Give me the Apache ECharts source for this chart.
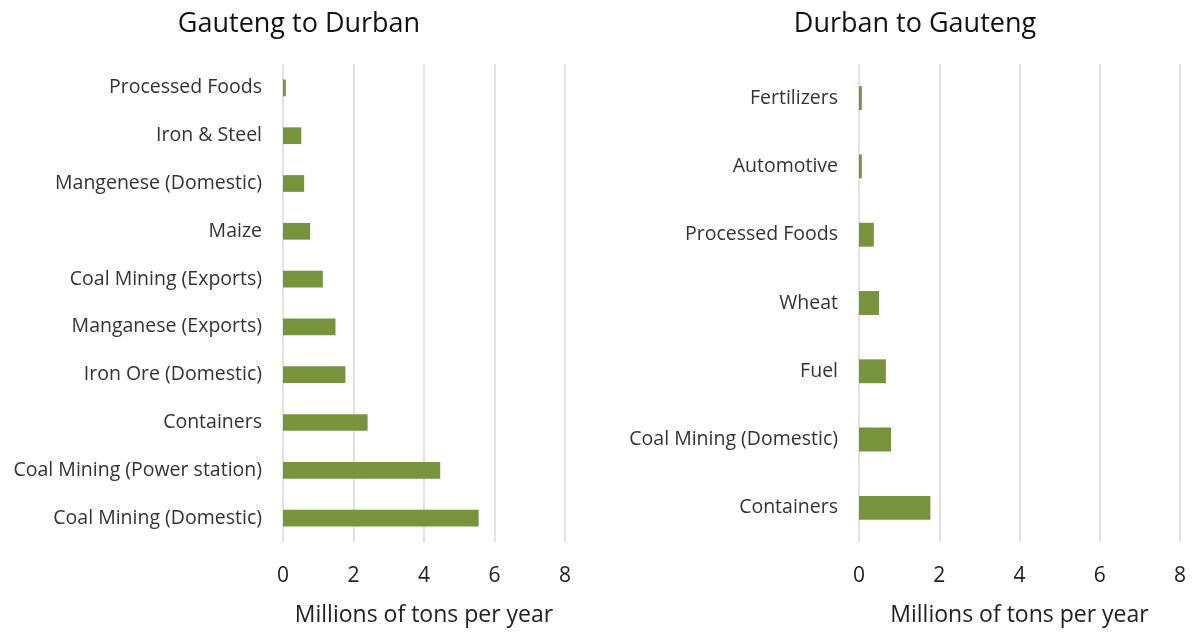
<!DOCTYPE html>
<html>
<head>
<meta charset="utf-8">
<script src="https://cdn.jsdelivr.net/npm/echarts@6/dist/echarts.min.js"></script>
<style>
  html, body { margin: 0; padding: 0; background: #fff; }
  #chart { width: 1195px; height: 632px; }
</style>
</head>
<body>
<div id="chart"></div>
<script>
  // Gauteng -> Durban (top to bottom as in the picture)
  const toDurbanCats = ['Processed Foods', 'Iron & Steel', 'Mangenese (Domestic)', 'Maize', 'Coal Mining (Exports)',
    'Manganese (Exports)', 'Iron Ore (Domestic)', 'Containers', 'Coal Mining (Power station)', 'Coal Mining (Domestic)']
  const toDurbanVals = [0.08, 0.52, 0.6, 0.77, 1.13, 1.49, 1.77, 2.4, 4.46, 5.55]

  // Durban -> Gauteng
  const toGautengCats = ['Fertilizers', 'Automotive', 'Processed Foods', 'Wheat', 'Fuel', 'Coal Mining (Domestic)', 'Containers']
  const toGautengVals = [0.07, 0.07, 0.37, 0.5, 0.67, 0.8, 1.78]

  const titles = ['Gauteng to Durban', 'Durban to Gauteng']
  const axisName = 'Millions of tons per year'

  const font = '"Open Sans", Lato, sans-serif'
  const barColor = '#77933c'

  // 一个柱状图的坐标轴配置
  function valueAxis (idx) {
    return {
      type: 'value',
      gridIndex: idx,
      min: 0,
      max: 8,
      interval: 2,
      name: axisName,
      nameLocation: 'middle',
      nameGap: 62,
      nameTextStyle: { color: '#222', fontSize: 23, fontFamily: font },
      axisLine: { show: false },
      axisTick: { show: false },
      axisLabel: { color: '#222', fontSize: 21, margin: 24, fontFamily: font },
      splitLine: { lineStyle: { color: '#d9d9d9', width: 1.5 } }
    }
  }

  function categoryAxis (idx, cats) {
    return {
      type: 'category',
      gridIndex: idx,
      data: cats,
      inverse: true,
      axisLine: { show: false },
      axisTick: { show: false },
      axisLabel: { color: '#333', fontSize: 19.5, margin: 21, fontFamily: font }
    }
  }

  let myChart = echarts.init(document.getElementById('chart'))
  myChart.setOption({
    animation: false,
    title: [
      { text: titles[0], left: 294, top: 6, textAlign: 'center', textStyle: { color: '#111', fontSize: 27, fontWeight: 'normal', fontFamily: font } },
      { text: titles[1], left: 910, top: 6, textAlign: 'center', textStyle: { color: '#111', fontSize: 27, fontWeight: 'normal', fontFamily: font } }
    ],
    grid: [
      { left: 283, right: 630, top: 64, bottom: 86 },
      { left: 859, right: 15, top: 64, bottom: 86 }
    ],
    xAxis: [valueAxis(0), valueAxis(1)],
    yAxis: [categoryAxis(0, toDurbanCats), categoryAxis(1, toGautengCats)],
    series: [
      {
        type: 'bar',
        xAxisIndex: 0,
        yAxisIndex: 0,
        barWidth: '35%',
        itemStyle: { color: barColor },
        data: toDurbanVals
      },
      {
        type: 'bar',
        xAxisIndex: 1,
        yAxisIndex: 1,
        barWidth: '35%',
        itemStyle: { color: barColor },
        data: toGautengVals
      }
    ]
  })
</script>
</body>
</html>
